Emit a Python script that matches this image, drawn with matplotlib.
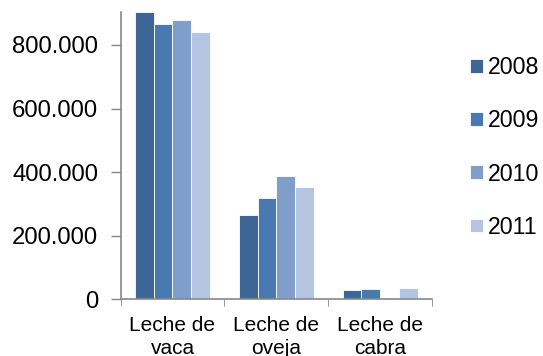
import numpy as np
import matplotlib.pyplot as plt
from matplotlib.ticker import FuncFormatter

plt.rcParams['font.family'] = ['Liberation Sans', 'DejaVu Sans']

# datos
categorias = ["Leche de\nvaca", "Leche de\noveja", "Leche de\ncabra"]
anios = ["2008", "2009", "2010", "2011"]
v2008 = [903000, 265000, 29000]
v2009 = [866000, 319000, 32500]
v2010 = [878000, 388000, 3000]
v2011 = [842000, 353000, 34500]
series = [v2008, v2009, v2010, v2011]
colores = ["#3D6595", "#4879B0", "#7F9EC9", "#B5C4E0"]

fig = plt.figure(figsize=(5.43, 3.56), dpi=100)
ax = fig.add_axes([0.222, 0.160, 0.574, 0.8055])

x = np.arange(len(categorias))
w = 0.181
for i, (vals, c, lab) in enumerate(zip(series, colores, anios)):
    ax.bar(x + (i - 1.5) * w, vals, width=w, color=c, edgecolor="white",
           linewidth=0.6, label=lab)

ax.set_xlim(-0.5, 2.5)
ax.set_ylim(0, 903000)
ax.set_yticks([0, 200000, 400000, 600000, 800000])
ax.yaxis.set_major_formatter(FuncFormatter(lambda v, p: f"{int(v):,}".replace(",", ".")))

ax.set_xticks(x)
ax.set_xticklabels(categorias, linespacing=1.3)
ax.set_xticks([-0.5, 0.5, 1.5, 2.5], minor=True)
ax.tick_params(axis="x", which="major", length=0, pad=12, labelsize=15)
ax.tick_params(axis="x", which="minor", length=5, color="#888888", direction="out")
ax.tick_params(axis="y", length=7, color="#888888", width=1, pad=9, labelsize=17.2)

for s in ["top", "right"]:
    ax.spines[s].set_visible(False)
for s in ["left", "bottom"]:
    ax.spines[s].set_color("#888888")
    ax.spines[s].set_linewidth(1.2)

fig.legend(loc="upper left", bbox_to_anchor=(0.866, 0.842), frameon=False,
           fontsize=16.7, handlelength=0.54, handleheight=0.54, handletextpad=0.22,
           labelspacing=1.3, borderpad=0, borderaxespad=0)

fig.savefig("out.png", dpi=100)
